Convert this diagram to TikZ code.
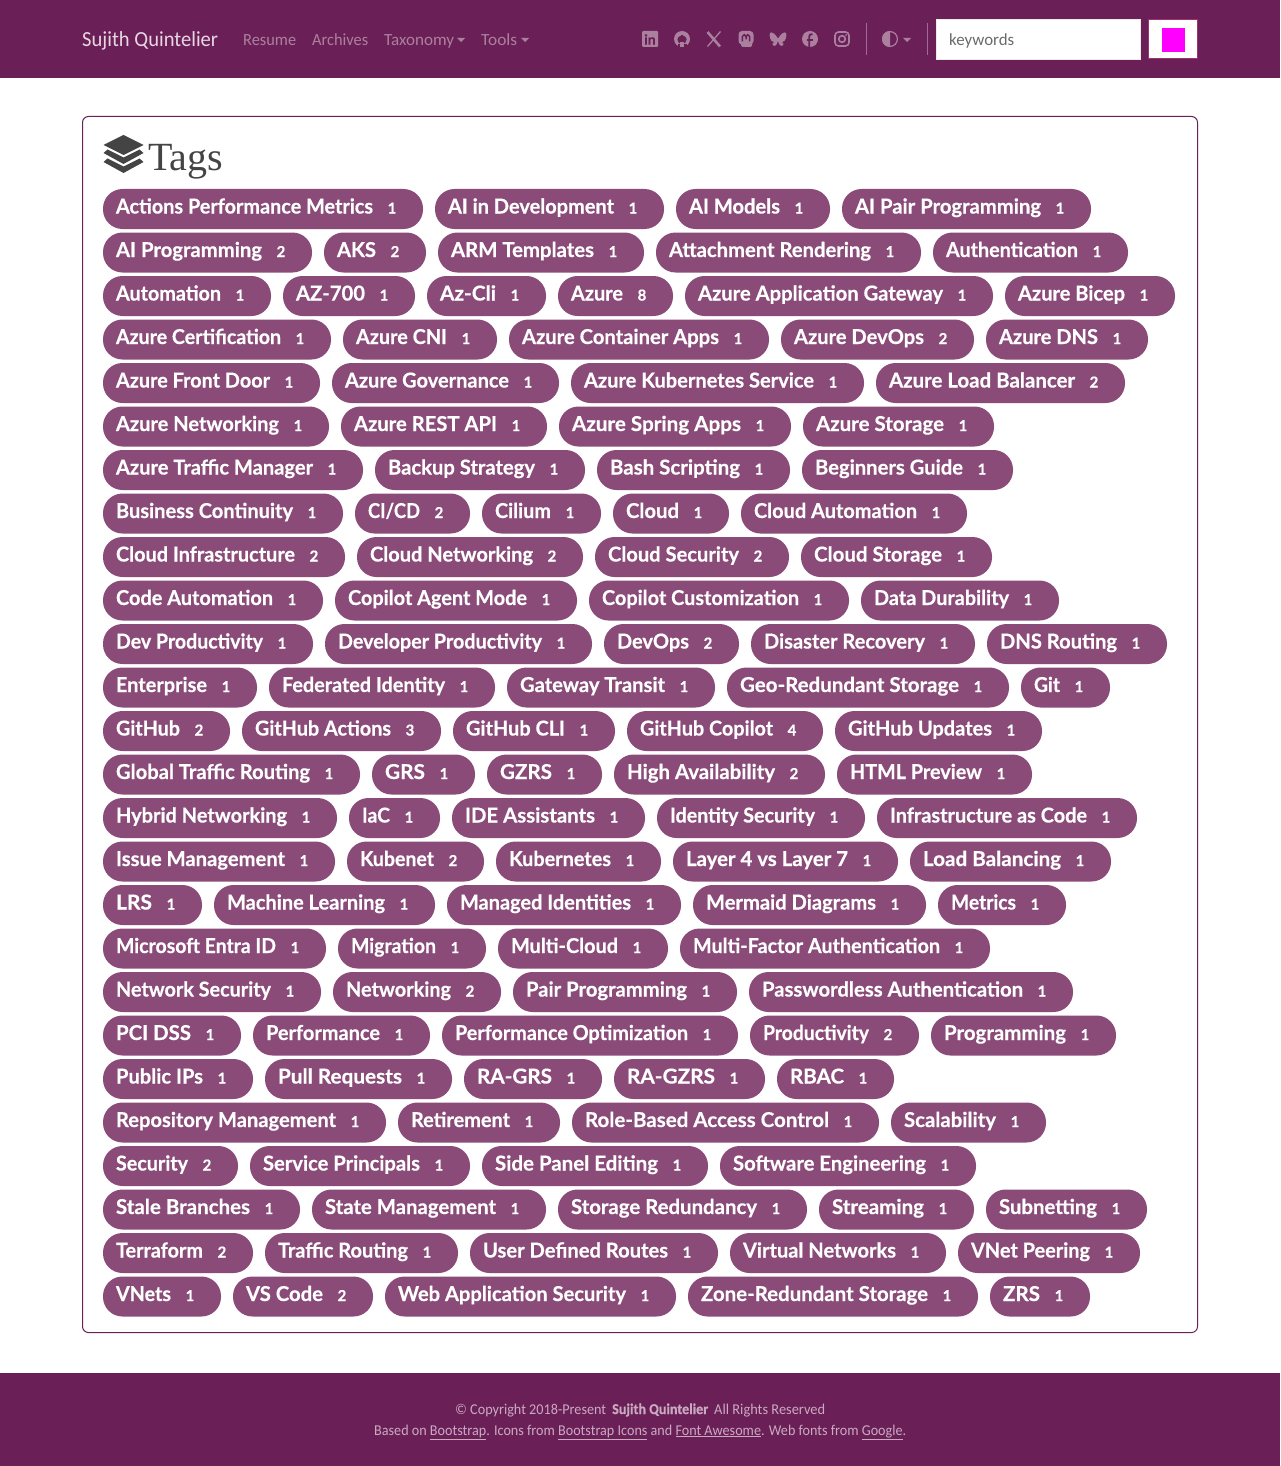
\documentclass[tikz,border=0pt]{standalone}
\usepackage{fontspec}
\usepackage{graphicx}
\usetikzlibrary{calc}
\setmainfont{Liberation Serif}
\newfontfamily\pillfont[BoldFeatures={FakeBold=0.5}]{Lato}
\newfontfamily\navfont[BoldFeatures={FakeBold=0.6}]{Carlito}
\definecolor{plum}{HTML}{6A1F57}
\definecolor{pillbg}{HTML}{8A4B78}
\definecolor{navdim}{HTML}{AB809F}
\definecolor{navlight}{HTML}{E6D7E2}
\definecolor{foot}{HTML}{C9AAC1}
\definecolor{ink}{HTML}{444444}
\definecolor{magentafill}{HTML}{FF00FF}
\definecolor{btnborder}{HTML}{A0306F}
\newlength\fitlen
\newcount\pillno
\newcount\rowno
\rowno=0
\newcommand\fitw[2]{\settowidth{\fitlen}{#2}\pgfmathsetmacro\fitr{#1/\fitlen}\scalebox{\fitr}[1]{#2}}
\newcommand\NR{\global\advance\rowno by 1 }
\newcommand\pill[4]{%
  \global\advance\pillno by 1
  \pgfmathsetmacro\py{209+43.5*(\the\rowno-1)}%
  \pgfmathsetmacro\pc{(#1+#2)/2}%
  \pgfmathsetmacro\pw{#2-#1}%
  \pgfmathsetmacro\pt{#2-#1-63}%
  \node[pill,minimum width=\pw pt] (p\the\pillno) at (\pc,\py)
   {\makebox[\pw pt][l]{\hspace*{13pt}\makebox[\pt pt][l]{\fitw{\pt}{#3}}\hspace*{19pt}\makebox[0pt][c]{\fontsize{15}{18}\selectfont #4}}};%
}
\tikzset{
  pill/.style={fill=pillbg,text=white,rounded corners=19.5pt,inner sep=0pt,minimum height=40pt,
    text height=24.5pt,text depth=15.5pt,font=\fontsize{20.5}{24}\selectfont\pillfont\bfseries},
  navtext/.style={inner sep=0pt,anchor=base west,text=navdim,font=\fontsize{17}{20}\selectfont\navfont},
  foottext/.style={inner sep=0pt,anchor=base west,text=foot,font=\fontsize{15}{18}\selectfont\navfont},
  iconfill/.style={fill=navdim,draw=none},
  caret/.style={fill=navdim,draw=none},
  divider/.style={draw=navdim,line width=.6pt,opacity=.8},
}
\begin{document}
\begin{tikzpicture}[x=1pt,y=-1pt]
\useasboundingbox (0,0) rectangle (1280,1466);
% bars
\fill[plum] (0,0) rectangle (1280,78);
\fill[plum] (0,1373) rectangle (1280,1466);
% navbar text
\node[navtext,text=navlight,font=\fontsize{21.5}{24}\selectfont\navfont] (brand) at (82,46.5) {\fitw{136}{Sujith Quintelier}};
\node[navtext] (resume) at (243,45.5) {\fitw{53}{Resume}};
\node[navtext] (archives) at (312,45.5) {\fitw{56}{Archives}};
\node[navtext] (taxonomy) at (384,45.5) {\fitw{70}{Taxonomy}};
\node[navtext] (tools) at (481,45.5) {\fitw{36}{Tools}};
\fill[caret] (457,38) -- (465,38) -- (461,42) -- cycle;
\fill[caret] (521,38) -- (529,38) -- (525,42) -- cycle;
% linkedin
\fill[iconfill,rounded corners=1pt] (642,31) rectangle (658,47);
\node[inner sep=0pt,text=plum,font=\fontsize{14}{14}\selectfont\pillfont\bfseries] (iconin) at (650,39.5) {in};
% github
\fill[iconfill] (682,39) circle (8);
\fill[plum] (682,39.5) circle (4.6);
\fill[plum] (677.5,44) rectangle (686.5,47.2);
\fill[iconfill] (679.8,42.5) rectangle (684.2,47);
\fill[iconfill] (678,33) -- (678,37) -- (681,35.5) -- cycle;
\fill[iconfill] (686,33) -- (686,37) -- (683,35.5) -- cycle;
% x
\draw[navdim,line width=2.6pt] (707.5,32) -- (720,46.5);
\draw[navdim,line width=1.3pt] (720.5,31.5) -- (707.5,46.5);
% mastodon
\fill[iconfill,rounded corners=3.5pt] (738.5,31) rectangle (753.5,44.5);
\fill[iconfill,rounded corners=1.5pt] (741,41) rectangle (752,47);
\draw[plum,line width=1.5pt] (742.4,41.5) -- (742.4,36.5) arc (180:360:1.8) arc (180:360:1.8) -- (749.6,41.5) (746,36.5) -- (746,39.5);
% bluesky
\fill[iconfill] (777.5,38) .. controls (775,33) and (771,31.5) .. (770,33) .. controls (769,35) and (770,42) .. (774,42) .. controls (771,44) and (773,47) .. (775,46) .. controls (776.5,45) and (777.5,43) .. (778,41) .. controls (778.5,43) and (779.5,45) .. (781,46) .. controls (783,47) and (785,44) .. (782,42) .. controls (786,42) and (787,35) .. (786,33) .. controls (785,31.5) and (781,33) .. (778.5,38) -- cycle;
% facebook
\fill[iconfill] (810,39) circle (8);
\draw[plum,line width=1.8pt] (812.5,34.2) .. controls (810,33.6) and (809.2,35) .. (809.2,37) -- (809.2,47);
\draw[plum,line width=1.5pt] (806.8,40) -- (812.5,40);
% instagram
\draw[navdim,line width=1.6pt,rounded corners=3.5pt] (835,32) rectangle (849,46);
\draw[navdim,line width=1.6pt] (842,39) circle (3.3);
\fill[iconfill] (846,35) circle (1);
\draw[divider] (866.5,23) -- (866.5,55);
% contrast icon
\fill[iconfill] (890,31) arc (270:90:8) -- cycle;
\draw[navdim,line width=1.2pt] (890,39) circle (7.4);
\fill[caret] (903,38) -- (911,38) -- (907,42) -- cycle;
\draw[divider] (927.5,23) -- (927.5,55);
% search
\node[draw=black!8,fill=white,inner sep=0pt,minimum width=203.5pt,minimum height=40pt] (search) at (1038,39) {};
\node[inner sep=0pt,anchor=base west,text=black!58,font=\fontsize{17}{20}\selectfont\navfont] (keywords) at (949,45.5) {\fitw{65}{keywords}};
\node[draw=btnborder,fill=white,line width=1pt,inner sep=0pt,minimum width=49pt,minimum height=39pt] (button) at (1173,39.5) {};
\node[fill=magentafill,inner sep=0pt,minimum width=23pt,minimum height=24pt] (swatch) at (1173.5,40) {};
% card
\draw[plum,line width=1pt,rounded corners=6pt] (82.5,116.5) rectangle (1197.5,1332.5);
% title
\fill[ink] (123.5,135) -- (143.5,145) -- (123.5,155) -- (103.5,145) -- cycle;
\fill[ink] (107.5,149.5) -- (123.5,157.5) -- (139.5,149.5) -- (143.5,153) -- (123.5,164) -- (103.5,153) -- cycle;
\fill[ink] (107.5,158.5) -- (123.5,166.5) -- (139.5,158.5) -- (143.5,162) -- (123.5,173) -- (103.5,162) -- cycle;
\node[inner sep=0pt,anchor=base west,text=ink,font=\fontsize{40}{44}\selectfont] (title) at (148,171) {Tags};
% pills
\NR
\pill{103}{423}{Actions Performance Metrics}{1}
\pill{435}{664}{AI in Development}{1}
\pill{676}{830}{AI Models}{1}
\pill{842}{1091}{AI Pair Programming}{1}
\NR
\pill{103}{312}{AI Programming}{2}
\pill{324}{426}{AKS}{2}
\pill{438}{644}{ARM Templates}{1}
\pill{656}{921}{Attachment Rendering}{1}
\pill{933}{1128}{Authentication}{1}
\NR
\pill{103}{271}{Automation}{1}
\pill{283}{415}{AZ-700}{1}
\pill{427}{546}{Az-Cli}{1}
\pill{558}{673}{Azure}{8}
\pill{685}{993}{Azure Application Gateway}{1}
\pill{1005}{1175}{Azure Bicep}{1}
\NR
\pill{103}{331}{Azure Certification}{1}
\pill{343}{497}{Azure CNI}{1}
\pill{509}{769}{Azure Container Apps}{1}
\pill{781}{974}{Azure DevOps}{2}
\pill{986}{1148}{Azure DNS}{1}
\NR
\pill{103}{320}{Azure Front Door}{1}
\pill{332}{559}{Azure Governance}{1}
\pill{571}{864}{Azure Kubernetes Service}{1}
\pill{876}{1125}{Azure Load Balancer}{2}
\NR
\pill{103}{329}{Azure Networking}{1}
\pill{341}{547}{Azure REST API}{1}
\pill{559}{791}{Azure Spring Apps}{1}
\pill{803}{994}{Azure Storage}{1}
\NR
\pill{103}{363}{Azure Traffic Manager}{1}
\pill{375}{585}{Backup Strategy}{1}
\pill{597}{790}{Bash Scripting}{1}
\pill{802}{1013}{Beginners Guide}{1}
\NR
\pill{103}{343}{Business Continuity}{1}
\pill{355}{470}{CI/CD}{2}
\pill{482}{601}{Cilium}{1}
\pill{613}{729}{Cloud}{1}
\pill{741}{967}{Cloud Automation}{1}
\NR
\pill{103}{345}{Cloud Infrastructure}{2}
\pill{357}{583}{Cloud Networking}{2}
\pill{595}{789}{Cloud Security}{2}
\pill{801}{992}{Cloud Storage}{1}
\NR
\pill{103}{323}{Code Automation}{1}
\pill{335}{577}{Copilot Agent Mode}{1}
\pill{589}{849}{Copilot Customization}{1}
\pill{861}{1059}{Data Durability}{1}
\NR
\pill{103}{313}{Dev Productivity}{1}
\pill{325}{592}{Developer Productivity}{1}
\pill{604}{739}{DevOps}{2}
\pill{751}{975}{Disaster Recovery}{1}
\pill{987}{1167}{DNS Routing}{1}
\NR
\pill{103}{257}{Enterprise}{1}
\pill{269}{495}{Federated Identity}{1}
\pill{507}{715}{Gateway Transit}{1}
\pill{727}{1009}{Geo-Redundant Storage}{1}
\pill{1021}{1110}{Git}{1}
\NR
\pill{103}{230}{GitHub}{2}
\pill{242}{441}{GitHub Actions}{3}
\pill{453}{615}{GitHub CLI}{1}
\pill{627}{823}{GitHub Copilot}{4}
\pill{835}{1042}{GitHub Updates}{1}
\NR
\pill{103}{360}{Global Traffic Routing}{1}
\pill{372}{475}{GRS}{1}
\pill{487}{602}{GZRS}{1}
\pill{614}{825}{High Availability}{2}
\pill{837}{1032}{HTML Preview}{1}
\NR
\pill{103}{337}{Hybrid Networking}{1}
\pill{349}{440}{IaC}{1}
\pill{452}{645}{IDE Assistants}{1}
\pill{657}{865}{Identity Security}{1}
\pill{877}{1137}{Infrastructure as Code}{1}
\NR
\pill{103}{335}{Issue Management}{1}
\pill{347}{484}{Kubenet}{2}
\pill{496}{661}{Kubernetes}{1}
\pill{673}{898}{Layer 4 vs Layer 7}{1}
\pill{910}{1111}{Load Balancing}{1}
\NR
\pill{103}{202}{LRS}{1}
\pill{214}{435}{Machine Learning}{1}
\pill{447}{681}{Managed Identities}{1}
\pill{693}{926}{Mermaid Diagrams}{1}
\pill{938}{1066}{Metrics}{1}
\NR
\pill{103}{326}{Microsoft Entra ID}{1}
\pill{338}{486}{Migration}{1}
\pill{498}{668}{Multi-Cloud}{1}
\pill{680}{990}{Multi-Factor Authentication}{1}
\NR
\pill{103}{321}{Network Security}{1}
\pill{333}{501}{Networking}{2}
\pill{513}{737}{Pair Programming}{1}
\pill{749}{1073}{Passwordless Authentication}{1}
\NR
\pill{103}{241}{PCI DSS}{1}
\pill{253}{430}{Performance}{1}
\pill{442}{738}{Performance Optimization}{1}
\pill{750}{919}{Productivity}{2}
\pill{931}{1116}{Programming}{1}
\NR
\pill{103}{253}{Public IPs}{1}
\pill{265}{452}{Pull Requests}{1}
\pill{464}{602}{RA-GRS}{1}
\pill{614}{765}{RA-GZRS}{1}
\pill{777}{894}{RBAC}{1}
\NR
\pill{103}{386}{Repository Management}{1}
\pill{398}{560}{Retirement}{1}
\pill{572}{879}{Role-Based Access Control}{1}
\pill{891}{1046}{Scalability}{1}
\NR
\pill{103}{238}{Security}{2}
\pill{250}{470}{Service Principals}{1}
\pill{482}{708}{Side Panel Editing}{1}
\pill{720}{976}{Software Engineering}{1}
\NR
\pill{103}{300}{Stale Branches}{1}
\pill{312}{546}{State Management}{1}
\pill{558}{807}{Storage Redundancy}{1}
\pill{819}{974}{Streaming}{1}
\pill{986}{1147}{Subnetting}{1}
\NR
\pill{103}{253}{Terraform}{2}
\pill{265}{458}{Traffic Routing}{1}
\pill{470}{718}{User Defined Routes}{1}
\pill{730}{946}{Virtual Networks}{1}
\pill{958}{1140}{VNet Peering}{1}
\NR
\pill{103}{221}{VNets}{1}
\pill{233}{373}{VS Code}{2}
\pill{385}{676}{Web Application Security}{1}
\pill{688}{978}{Zone-Redundant Storage}{1}
\pill{990}{1090}{ZRS}{1}
% footer
\node[foottext] (foot1a) at (455,1414) {\fitw{151}{© Copyright 2018-Present}};
\node[foottext,font=\fontsize{15}{18}\selectfont\navfont\bfseries] (foot1b) at (612,1414) {\fitw{96}{Sujith Quintelier}};
\node[foottext] (foot1c) at (714,1414) {\fitw{111}{All Rights Reserved}};
\node[foottext] (foot2a) at (374,1435) {\fitw{532}{Based on \underline{Bootstrap}. Icons from \underline{Bootstrap Icons} and \underline{Font Awesome}. Web fonts from \underline{Google}.}};
\end{tikzpicture}
\end{document}
